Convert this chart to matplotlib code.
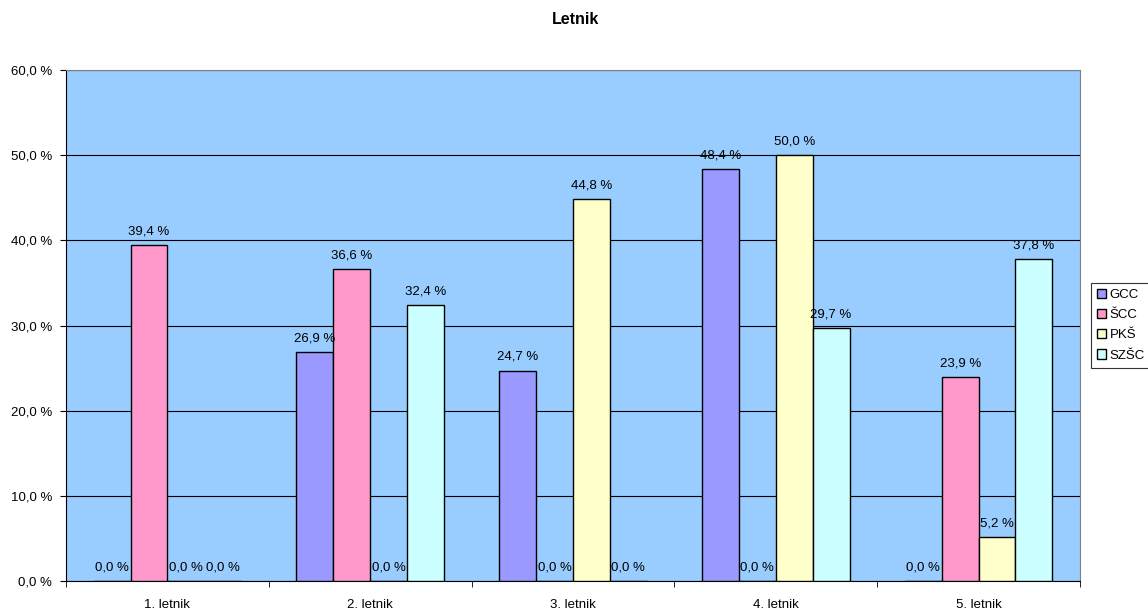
import matplotlib
matplotlib.use("Agg")
import matplotlib.pyplot as plt
import numpy as np

plt.rcParams["font.family"] = ["Liberation Sans", "DejaVu Sans"]

categories = ["1. letnik", "2. letnik", "3. letnik", "4. letnik", "5. letnik"]
series = ["GCC", "ŠCC", "PKŠ", "SZŠC"]
gcc = [0.0, 26.9, 24.7, 48.4, 0.0]
scc = [39.4, 36.6, 0.0, 0.0, 23.9]
pks = [0.0, 0.0, 44.8, 50.0, 5.2]
szsc = [0.0, 32.4, 0.0, 29.7, 37.8]
colors = ["#9999FF", "#FF99CC", "#FFFFCC", "#CCFFFF"]

def fmt(v):
    return f"{v:.1f}".replace(".", ",") + " %"

fig = plt.figure(figsize=(11.48, 6.10), dpi=100)
ax = fig.add_axes([66/1148, 29/610, 1014/1148, (581 - 70)/610])
ax.set_facecolor("#99CCFF")

x = np.arange(len(categories))
w = 1 / 5.5
for i, (name, vals) in enumerate(zip(series, [gcc, scc, pks, szsc])):
    pos = x + (i - 1.5) * w
    ax.bar(pos, vals, width=w, color=colors[i], edgecolor="black", linewidth=1, label=name, zorder=3)
    for p, v in zip(pos, vals):
        ax.text(p, v + 0.9, fmt(v), ha="center", va="bottom", fontsize=9.5, zorder=4)

ax.set_xlim(-0.5, len(categories) - 0.5)
ax.set_ylim(0, 60)
ax.set_yticks(range(0, 61, 10))
ax.set_yticklabels([fmt(v) for v in range(0, 61, 10)], fontsize=9.5)
ax.yaxis.grid(True, color="black", linewidth=0.8, zorder=1)
ax.set_axisbelow(True)

ax.set_xticks(x)
ax.set_xticklabels(categories, fontsize=9.5)
ax.tick_params(axis="x", length=0, pad=13)
ax.set_xticks(np.arange(-0.5, len(categories)), minor=True)
ax.tick_params(axis="x", which="minor", length=4, direction="out")
ax.tick_params(axis="y", length=4, direction="out", pad=6)

for s in ["top", "right"]:
    ax.spines[s].set_color("#808080")
for s in ["left", "bottom"]:
    ax.spines[s].set_color("black")

fig.text(576/1148, 1 - 19/610, "Letnik", fontsize=11.5, fontweight="bold", ha="center", va="center")
leg = fig.legend(loc="upper left", bbox_to_anchor=(1091/1148, 1 - 283/610), fontsize=9.5,
                 frameon=True, fancybox=False, edgecolor="black", handlelength=0.7,
                 handleheight=0.7, handletextpad=0.25, borderpad=0.45, labelspacing=0.6,
                 borderaxespad=0)
leg.get_frame().set_linewidth(0.8)

fig.savefig("out.png", dpi=100)
